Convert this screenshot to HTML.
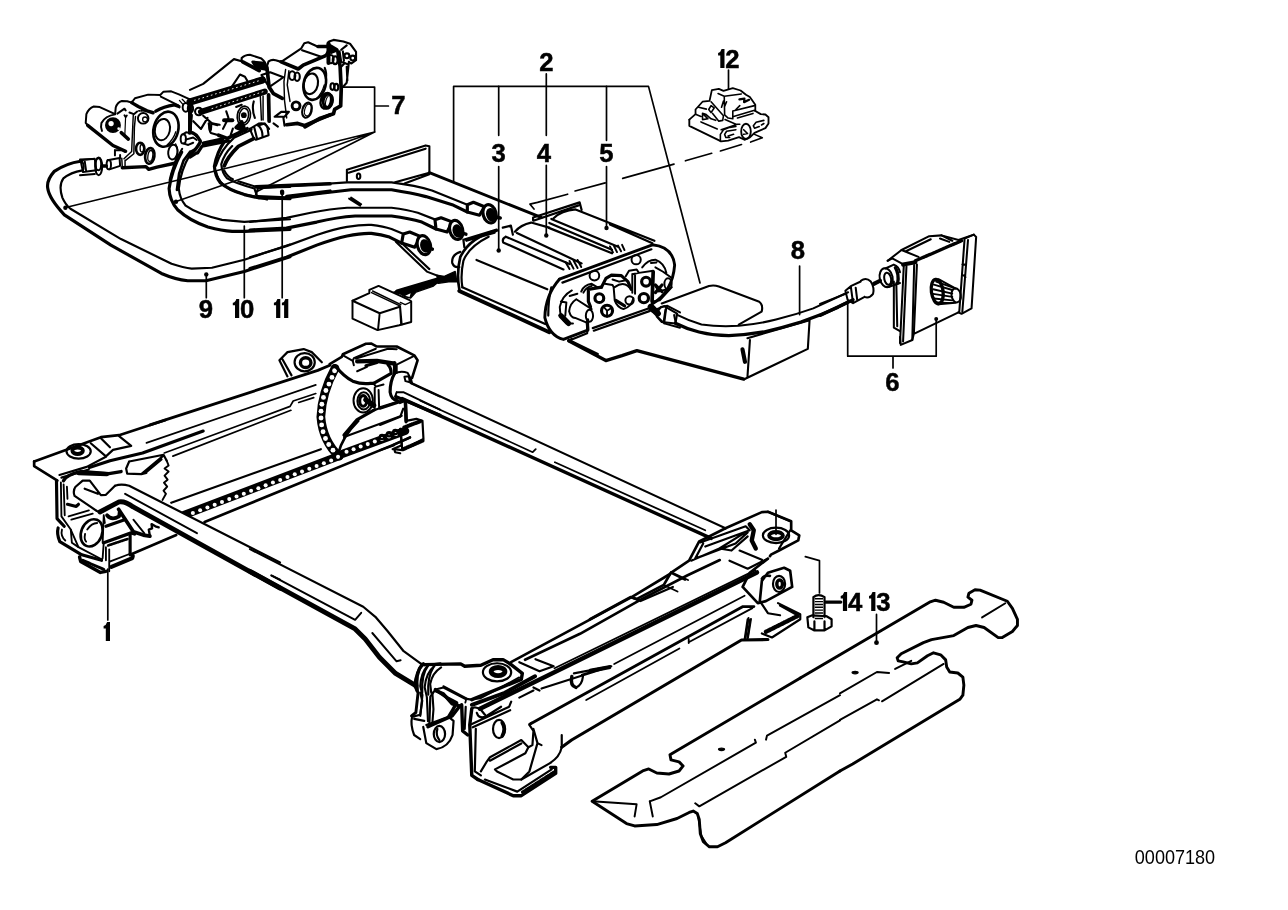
<!DOCTYPE html>
<html><head><meta charset="utf-8"><title>Seat adjuster diagram</title>
<style>
html,body{margin:0;padding:0;background:#fff;}
body{width:1288px;height:910px;overflow:hidden;font-family:"Liberation Sans",sans-serif;}
svg{display:block;position:absolute;left:0;top:0;}
.l{fill:none;stroke:#000;stroke-width:1.6;stroke-linecap:round;stroke-linejoin:round;}
.t{fill:none;stroke:#000;stroke-width:1.7;stroke-linecap:round;stroke-linejoin:round;}
.k{fill:none;stroke:#000;stroke-width:2.4;stroke-linecap:round;stroke-linejoin:round;}
.w{fill:#fff;stroke:#000;stroke-width:1.6;stroke-linecap:round;stroke-linejoin:round;}
.b{fill:#000;stroke:none;}
.n{font-family:"Liberation Sans",sans-serif;font-weight:bold;font-size:26.5px;fill:#000;stroke:#000;stroke-width:0.5px;text-anchor:middle;}
</style></head><body>
<svg width="1288" height="910" viewBox="0 0 1288 910">
<rect x="0" y="0" width="1288" height="910" fill="#fff"/>
<g id="gearL" transform="translate(80,90) scale(0.10989)" stroke-linecap="round" stroke-linejoin="round" fill="none" stroke="#000">
<g stroke-width="18">
<!-- left cylinder -->
<path d="M310 215L180 155L125 150Q80 165 58 220L52 300L70 322"/>
<path d="M320 222Q230 235 195 300Q185 340 200 372"/>
<path d="M318 545V595M330 548H385L405 562M365 592V618"/>
<!-- small fitting bottom-left -->
<path d="M0 632L130 628M0 775L135 765M20 650Q45 690 25 742"/>
<ellipse cx="170" cy="695" rx="32" ry="80"/>
<path d="M250 640L360 618L365 690L268 722"/>
<ellipse cx="262" cy="680" rx="20" ry="42"/>
<!-- housing outline -->
<path d="M320 215L325 160Q340 110 380 100L430 102L470 115L500 75L620 42L730 45L760 15L830 12L900 40L1010 90"/>
<path d="M735 60L895 140L905 158"/>
<path d="M340 215L405 170L416 186M405 230L415 246L426 232M450 205L490 220L520 195"/>
<path d="M485 225L480 330L470 560L400 625M505 240L495 340L490 580L415 640M380 620L385 705M410 640V712" stroke-width="13.2"/>
<path d="M415 246L408 410" stroke-width="10.8"/>
<!-- top-left bolt hole -->
<circle cx="575" cy="258" r="48"/>
<circle cx="592" cy="268" r="22" stroke-width="12"/>
<path d="M535 190H610" stroke-width="14.4" stroke-dasharray="10 12"/>
<!-- big circle -->
<ellipse cx="750" cy="360" rx="68" ry="98" transform="rotate(12 750 360)"/>
<path d="M872 380Q850 450 792 500" stroke-width="12"/>
<!-- small holes -->
<ellipse cx="563" cy="530" rx="16" ry="34" stroke-width="12"/>
<ellipse cx="640" cy="600" rx="22" ry="50" transform="rotate(8 640 600)" stroke-width="12"/>
<ellipse cx="845" cy="565" rx="42" ry="68" transform="rotate(8 845 565)"/>
<path d="M870 490Q900 540 880 620" stroke-width="12"/>
<!-- top-right bolt -->
<ellipse cx="962" cy="158" rx="28" ry="40"/><ellipse cx="1005" cy="168" rx="24" ry="38"/>
<path d="M905 95L940 135M930 85L960 115" stroke-width="12"/>
<!-- elbow fitting -->
<ellipse cx="940" cy="445" rx="24" ry="42"/>
<path d="M940 402L965 385L1035 398L1098 458L1085 502L1040 540L1000 562"/>
<path d="M962 452L1030 432L1062 455M945 488L985 500L1030 480"/>
<!-- cable 10 top thin edge -->
<path d="M930 535L870 640L830 760L815 822"/>
<!-- leader line pieces crossing -->
</g>
<g stroke-width="31.2">
<path d="M70 322L300 505L415 557"/>
<path d="M375 388L440 447"/>
<circle cx="300" cy="320" r="58" stroke-width="28.8" fill="#000"/>
<path d="M470 115L530 150L610 190L665 207"/>
<path d="M690 192Q760 150 860 135L900 150"/>
<ellipse cx="782" cy="357" rx="112" ry="162" transform="rotate(14 782 357)" stroke-width="24"/>
<ellipse cx="548" cy="535" rx="38" ry="55" stroke-width="24"/>
<ellipse cx="635" cy="600" rx="42" ry="72" transform="rotate(8 635 600)" stroke-width="24"/>
<path d="M385 707L600 697L625 722L700 702L862 667"/>
<path d="M1012 230L997 392"/>
<path d="M200 692H240"/>
<path d="M1002 562L942 642L902 762L882 910" stroke-width="24"/>
</g>
<circle cx="283" cy="305" r="24" fill="#fff" stroke="none"/>
<circle cx="352" cy="352" r="12" fill="#fff" stroke="none"/>
</g>

<g id="gearM" transform="translate(190,30) scale(0.10989)" stroke-linecap="round" stroke-linejoin="round" fill="none" stroke="#000">
<g stroke-width="19.2">
<path d="M0 545L120 490L400 265L470 285V255Q500 225 545 225L650 260Q690 290 690 330"/>
<path d="M700 330L715 285Q745 265 780 275L830 290L1010 170L1040 120L1075 112L1160 150L1250 155"/>
<path d="M1020 185L1200 245M1230 235L1274 160"/>
<path d="M375 525L455 405L500 425L520 460M395 520L650 465"/>

<path d="M650 410L720 520L850 430L730 385Z"/>
<path d="M870 360L855 470L860 640L880 800M900 370L885 500L910 650" stroke-width="13.2"/>
<ellipse cx="930" cy="415" rx="28" ry="40"/><ellipse cx="975" cy="425" rx="24" ry="38"/>
<ellipse cx="1100" cy="490" rx="64" ry="95" transform="rotate(12 1100 490)"/>
<path d="M1222 500Q1200 580 1150 625" stroke-width="12"/>
<ellipse cx="1065" cy="730" rx="42" ry="70" transform="rotate(15 1065 730)"/>
<ellipse cx="1072" cy="728" rx="28" ry="55" transform="rotate(15 1072 728)" stroke-width="10.8"/>
<ellipse cx="490" cy="780" rx="60" ry="88" transform="rotate(10 490 780)" stroke-width="14.4"/>
<ellipse cx="490" cy="780" rx="42" ry="68" transform="rotate(10 490 780)" stroke-width="14.4"/>
<path d="M640 600L650 820M665 600L665 820" stroke-width="13.2"/>
<path d="M770 790L830 745L900 745L860 790ZM850 800L860 870"/>
<path d="M120 780L200 850L270 862M30 830L100 900L160 800M330 740L350 800L300 900M170 850L180 910M195 850L190 910"/>
<circle cx="80" cy="742" r="34"/>
<path d="M580 650Q560 720 590 800M420 700L470 680"/>
<path d="M620 870L680 850L720 900M760 850L800 880"/>
</g>
<g stroke-width="33.6">
<path d="M480 290L630 370"/>
<path d="M830 290L985 355L1030 320L1230 235"/>
<path d="M700 340L720 520L760 580L840 622"/>
<path d="M715 590L720 830"/>
<path d="M880 862L980 850L1040 870L1274 772"/>
<ellipse cx="1135" cy="490" rx="100" ry="148" transform="rotate(14 1135 490)" stroke-width="24"/>
<circle cx="965" cy="690" r="36" stroke-width="26.4"/>
<ellipse cx="1252" cy="640" rx="42" ry="65" stroke-width="24"/>
<path d="M310 822H385" stroke-width="36"/>
<path d="M0 655L660 455" stroke-width="64.8"/>
<path d="M100 745L680 560" stroke-width="55.2"/>
<path d="M0 640V910" stroke-width="36"/>
<path d="M1260 120V300" stroke-width="36"/>
</g>
<path d="M570 290L680 300L690 360L600 340Z" fill="#000" stroke-width="24"/>
<circle cx="490" cy="775" r="26" fill="#000" stroke="none"/>
<path d="M40 640L640 458" stroke="#fff" stroke-width="8.4" stroke-dasharray="8 32"/>
<path d="M200 715L670 560" stroke="#fff" stroke-width="8.4" stroke-dasharray="8 32"/>
</g>

<g id="gearR" transform="translate(250,30) scale(0.10989)" stroke-linecap="round" stroke-linejoin="round" fill="none" stroke="#000">
<g stroke-width="19.2">
<path d="M700 150L720 105L760 90L850 105L910 125L965 200V275L920 305L900 290"/>
<path d="M830 180L880 140M815 195L830 290L890 312M845 195L855 280"/>
<circle cx="882" cy="235" r="22"/><circle cx="935" cy="255" r="22"/>
<ellipse cx="735" cy="265" rx="26" ry="38"/><ellipse cx="775" cy="275" rx="22" ry="36"/>
<path d="M900 290L880 480L842 522M830 335L862 300M880 335L886 460"/>
<ellipse cx="750" cy="515" rx="18" ry="30"/><ellipse cx="785" cy="520" rx="18" ry="30"/>
<ellipse cx="710" cy="650" rx="42" ry="68" transform="rotate(15 710 650)"/>
<ellipse cx="718" cy="648" rx="28" ry="54" transform="rotate(15 718 648)" stroke-width="10.8"/>
<path d="M680 345Q700 390 690 440" />
</g>
<g stroke-width="33.6">
<path d="M800 200L820 330L830 540L825 690L770 722L760 762L640 802L500 882"/>
<path d="M620 150H700"/>
<path d="M720 140L790 180L740 200Z" fill="#000"/>
<ellipse cx="690" cy="645" rx="46" ry="72" transform="rotate(15 690 645)" stroke-width="21.6"/>
</g>
</g>

<g id="gearB" transform="translate(190,100) scale(0.10989)" stroke-linecap="round" stroke-linejoin="round" fill="none" stroke="#000">
<g stroke-width="19.2">
<!-- cable 11 fitting -->
<path d="M545 262L625 215Q680 200 705 250L715 320L600 362"/>
<path d="M585 250L610 350M625 235Q660 270 660 330M545 262L580 350"/>
<!-- cable 11 upper part -->
<path d="M560 270L400 345Q280 450 235 600"/>
<path d="M235 650Q250 720 300 770Q400 850 600 880L700 905" stroke-width="21.6"/>
<path d="M310 640Q340 700 390 722M440 740L600 790"/>
<!-- bridge bottom plate -->
<path d="M120 392L300 352M70 482L110 420L350 372M0 520L60 482" stroke-width="28.8"/>
<path d="M0 290Q60 300 95 380Q60 450 0 500" stroke-width="28.8"/>
<path d="M180 215Q170 270 190 300L260 320M250 230L200 215"/>
<path d="M390 260L370 320L410 330"/>
<path d="M620 800L600 860"/>
</g>
<g stroke-width="33.6">
<path d="M580 352L440 422Q340 520 312 600"/>
<path d="M600 790L1274 762"/>
<path d="M880 880L1274 830"/>
<path d="M260 320L340 350L520 262"/>
<path d="M420 250L500 280L470 200Z" fill="#000"/>
</g>
<circle cx="838" cy="835" r="20" fill="#000" stroke="none"/>
</g>

<g id="cablesL" transform="translate(30,140) scale(0.20218)" stroke-linecap="round" stroke-linejoin="round" fill="none" stroke="#000">
<!-- cable 9 -->
<path stroke-width="15.6" d="M250 105Q180 115 120 155Q80 200 88 240Q95 290 170 370L400 520L650 660Q720 690 780 696L870 696L1060 650L1286 578"/>
<path stroke-width="10.8" d="M260 150Q200 160 165 190Q140 225 160 285Q175 320 200 340L450 490L700 612Q760 632 800 636L900 632L1060 592L1286 517"/>
<!-- cable 9 fitting -->
<path stroke-width="9.6" d="M250 100L320 92L328 150L262 158ZM270 100L278 155"/>
<ellipse cx="338" cy="120" rx="14" ry="30" stroke-width="9.6"/>
<!-- cable 10 -->
<path stroke-width="15.6" d="M750 60Q700 150 688 240Q690 300 730 345Q790 400 880 430Q950 448 1000 452H1060L1286 442"/>
<path stroke-width="10.8" d="M790 75Q745 150 736 240Q740 290 770 325Q830 368 950 395L1060 405L1286 392"/>
<!-- cable 11 -->
<path stroke-width="15.6" d="M960 10Q925 60 912 130Q915 175 940 210Q980 245 1060 270L1130 286L1286 290"/>
<path stroke-width="10.8" d="M1000 30Q960 70 946 120Q950 165 975 190Q1010 212 1110 240L1125 282M1130 236L1286 232"/>
</g>
<g id="cablesR" transform="translate(250,140) scale(0.20218)" stroke-linecap="round" stroke-linejoin="round" fill="none" stroke="#000">
<path stroke-width="10.8" d="M40 238L250 225L480 210H700Q820 225 900 250L1075 320"/>
<path stroke-width="15.6" d="M40 280L180 286L330 266L500 246H700Q800 262 870 280L1000 320L1075 356"/>
<path stroke-width="10.8" d="M0 405L180 385L300 360Q400 340 480 335H700Q780 345 830 360L920 395"/>
<path stroke-width="15.6" d="M0 445L180 436L330 406Q430 382 520 376H700Q790 388 850 406L920 440"/>
<path stroke-width="10.8" d="M0 580L180 525L330 470Q420 440 480 430Q550 418 600 420Q660 428 700 440L760 465"/>
<path stroke-width="15.6" d="M0 636L180 580L330 520Q420 488 480 475Q550 460 600 462Q650 468 690 480L750 510"/>
<!-- connectors -->
<g stroke-width="15.6" fill="#fff">
<path d="M1075 320L1105 308L1160 330L1135 372L1075 356Z"/>
<ellipse cx="1185" cy="365" rx="32" ry="46" transform="rotate(-15 1185 365)"/>
<ellipse cx="1192" cy="370" rx="16" ry="26" transform="rotate(-15 1192 370)" fill="#000"/>
<path d="M915 395L945 385L1000 405L975 455L920 440Z"/>
<ellipse cx="1020" cy="445" rx="32" ry="48" transform="rotate(-15 1020 445)"/>
<ellipse cx="1026" cy="450" rx="16" ry="26" transform="rotate(-15 1026 450)" fill="#000"/>
<path d="M758 465L790 455L845 478L815 530L750 510Z"/>
<ellipse cx="860" cy="520" rx="32" ry="48" transform="rotate(-15 860 520)"/>
<ellipse cx="866" cy="524" rx="16" ry="26" transform="rotate(-15 866 524)" fill="#000"/>
</g>
<path stroke-width="16.8" d="M1192 378L1238 386M1026 455L1068 466M868 528L902 540"/>
<path stroke-width="9.6" d="M490 290L545 325M500 285L550 318"/>
</g>

<g id="plateL" transform="translate(330,130) scale(0.24845)" stroke-linecap="round" stroke-linejoin="round" fill="none" stroke="#000">
<g stroke-width="8.4">
<path d="M68 205V160L385 62L400 65V170M75 172L385 75"/>
<ellipse cx="115" cy="186" rx="7" ry="11"/>
<path d="M400 172L262 210M400 178L300 215"/>
<path d="M265 450L390 570L480 605M285 452L400 560"/>
</g>
<g stroke-width="12">
<path d="M400 172L850 352"/>
<path d="M270 650L440 600L500 590" stroke-width="16.8"/>
<path d="M300 640L430 615" stroke-width="9.6"/>
</g>
</g>
<g id="plateR" transform="translate(540,250) scale(0.24845)" stroke-linecap="round" stroke-linejoin="round" fill="none" stroke="#000">
<g stroke-width="8.4">
<path d="M490 215L680 145Q700 140 720 147L880 207Q900 220 892 248L800 300"/>
<path d="M835 355L1085 283L1078 398L822 520M845 362L835 510"/>
<path d="M115 365L190 335V290"/>
<!-- cable 8 top edge -->
<path d="M550 260Q600 285 650 300Q720 310 800 305Q880 298 950 280Q1030 260 1100 235L1240 170"/>
<!-- fitting -->
<path d="M470 238L500 226L552 256L545 296L490 290L470 268Z"/>
<path d="M505 240L498 288M540 262L548 300"/>
</g>
<g stroke-width="13.2">
<path d="M115 365L265 445L330 425L390 405L820 520"/>
<path d="M545 295Q590 318 640 330Q700 345 760 345Q830 342 900 330Q980 312 1050 290Q1130 262 1200 230L1260 200"/>
<path d="M815 400L825 450" stroke-width="16.8"/>
</g>
<circle cx="458" cy="240" r="9" fill="#000" stroke="none"/>
</g>

<g id="motor" transform="translate(430,170) scale(0.20218)" stroke-linecap="round" stroke-linejoin="round" fill="none" stroke="#000">
<g stroke-width="10.8">
<!-- left motor -->
<path d="M330 300Q200 330 150 430Q130 510 145 590" stroke-width="13.2"/>
<path d="M290 330Q190 380 165 450Q150 520 160 580"/>
<path d="M160 580L570 762M230 445L580 590"/>
<path d="M150 405Q105 420 110 460Q120 485 145 480"/>
<path d="M165 345L330 295M165 345L170 382M360 285L400 275L410 320M180 350L320 310"/>
<!-- rod 1 -->
<path d="M375 330L690 465M362 358L660 492M375 330Q355 340 362 358"/>
<path d="M670 455L690 490M690 450L710 488M710 448L730 485M730 445L748 480" stroke-width="9.6"/>
<!-- middle motor -->
<path d="M420 305Q450 270 500 260L590 285M430 312L750 462M585 285L900 412"/>
<!-- rod 2 -->
<path d="M600 242L930 380M590 262L900 395"/>
<path d="M890 378L905 408M910 376L925 406M930 374L945 402M950 370L962 396" stroke-width="9.6"/>
<!-- right motor -->
<path d="M610 240Q650 200 720 195L1110 350M890 270L1100 362"/>
<path d="M510 235L740 160L750 198M515 250L735 175M510 235V250"/>
<!-- end plate -->
<path d="M640 540L1100 370Q1200 380 1210 470Q1200 600 1100 662" stroke-width="14.4"/>
<path d="M640 540Q570 620 568 730Q590 820 660 838L780 792V740" stroke-width="14.4"/>
<path d="M655 557L1095 392M600 580Q585 640 585 720"/>
<path d="M805 782L1080 685M810 795L1085 698"/>
<!-- plate under motor -->
<path d="M690 842L830 910M700 835L690 850"/>
</g>
<g stroke-width="19.2">
<path d="M145 598L590 802"/>
<path d="M1090 690L1110 700"/>
</g>
</g>

<g id="endplate" transform="translate(540,230) scale(0.10989)" stroke-linecap="round" stroke-linejoin="round" fill="none" stroke="#000">
<g stroke-width="18">
<circle cx="495" cy="415" r="44"/><circle cx="875" cy="270" r="42"/>
<path d="M290 550Q200 600 180 700Q180 800 240 850H300M330 630Q270 670 265 740Q280 800 320 800M330 630L470 720M320 800L420 840M270 600L340 580M190 650L240 660L230 780"/>
<ellipse cx="450" cy="780" rx="33" ry="55"/>
<path d="M375 560Q400 500 470 490L520 520M395 570Q420 520 470 510"/>
<path d="M660 450L720 470L770 460M590 490L660 500L670 520L680 640Q700 700 760 720Q830 700 850 620M680 520Q750 470 800 510L830 540"/>
<circle cx="815" cy="640" r="38"/>
<path d="M780 420L810 370L880 360L900 390L850 400M840 400V570M865 400V580M900 390L1030 370"/>
<path d="M930 340Q980 270 1050 270Q1130 300 1150 390M1010 300L1060 295M1050 340L1120 380L1190 430M1050 510L1080 560L1150 540"/>
<ellipse cx="1165" cy="490" rx="33" ry="50"/>
<path d="M1030 650L1090 640L1200 520"/>
<path d="M1060 760L1100 700L1160 690L1274 750M1080 800L1130 850L1274 890M1150 700L1130 850"/>
</g>
<g stroke-width="28.8">
<path d="M190 780L260 850" stroke-width="48"/>
<path d="M440 540V650L460 700M440 540L560 520"/>
<path d="M560 520L600 440L650 410L740 415L800 470L830 540"/>
<path d="M690 640L770 690"/>
<circle cx="540" cy="620" r="40"/>
<circle cx="610" cy="735" r="50"/>
<path d="M610 735L580 700M610 735L650 710M610 735V790" stroke-width="16.8"/>
<circle cx="965" cy="470" r="40"/><circle cx="945" cy="620" r="42"/>
<path d="M1030 380L1020 650" stroke-width="33.6"/>
<path d="M1050 500L1110 560M1110 500L1050 570"/>
<path d="M430 840L435 910"/>
<path d="M1010 700L1070 760" stroke-width="60"/>
</g>
</g>

<g id="plug" transform="translate(340,260) scale(0.1087)" stroke-linecap="round" stroke-linejoin="round" fill="none" stroke="#000">
<g stroke-width="18">
<path d="M115 375L270 305V275L355 238L640 370L655 380V570L545 600L345 645L115 540Z" fill="#fff"/>
<path d="M115 375L365 490L550 430M365 490L350 640"/>
<path d="M290 300L555 425L570 595M300 285L560 410M555 390L600 410L655 385M550 430L560 590" stroke-width="13.2"/>
</g>
<path d="M495 295L870 180L905 200L860 240L700 295L650 350L600 340L560 315Z" fill="#000" stroke-width="12"/>
<path d="M600 330L650 305L640 340Z" fill="#fff" stroke="none"/>
<path d="M890 140L960 150L1060 105L1075 200L1000 200L905 215Z" fill="#000" stroke-width="12"/>
</g>

<g id="gearbox6" transform="translate(820,220) scale(0.153846)" stroke-linecap="round" stroke-linejoin="round" fill="none" stroke="#000">
<g stroke-width="13.2">
<path d="M440 265L530 195L710 105L790 100L900 130L1000 95L1015 110L985 575L920 610L900 600"/>
<path d="M530 195L640 240M555 205L720 125M790 100L860 135M780 120L840 142"/>
<path d="M940 120L1000 95M940 120L905 600M962 130L925 598M925 290H940M935 360L945 372"/>
<path d="M630 290L610 740L900 600M610 740L600 780L525 812L520 760"/>
<path d="M545 290L520 800M562 300L540 790M612 292L600 780"/>
<path d="M440 265L470 250L545 290M480 400V700L520 722M496 410L502 690"/>
<!-- input boss -->
<ellipse cx="430" cy="375" rx="42" ry="62" transform="rotate(-12 430 375)"/>
<ellipse cx="440" cy="382" rx="22" ry="40" transform="rotate(-12 440 382)"/>
<path d="M425 315L480 290Q512 300 520 340M445 436L520 410"/>
<!-- cable end fitting -->
<path d="M165 460L200 430L265 400M265 395Q300 370 330 400Q355 440 345 480Q320 512 290 500M200 430L215 540L290 500M165 460L180 520L215 540M232 440L242 520"/>
<path d="M0 545L165 480"/>
<!-- knurl shaft -->
<ellipse cx="885" cy="490" rx="30" ry="46" transform="rotate(-10 885 490)"/>
<path d="M770 385L880 445M770 548L880 538"/>
</g>
<g stroke-width="21.6">
<path d="M620 265L920 135" stroke-dasharray="16 8"/>
<path d="M0 620L180 535"/>
<path d="M350 415L390 395" stroke-width="26.4"/>
<path d="M490 310Q515 350 505 410"/>
<ellipse cx="762" cy="465" rx="38" ry="80" transform="rotate(-8 762 465)"/>
<path d="M740 420L860 455M735 450L860 478M735 480L860 500M740 510L860 522M750 535L860 540M755 400L865 440" stroke-width="12"/>
<path d="M540 290L620 275" stroke-width="26.4"/>
</g>
</g>

<g id="clip12" transform="translate(680,80) scale(0.07764)" stroke-linecap="round" stroke-linejoin="round" fill="none" stroke="#000">
<g stroke-width="20.4">
<path d="M120 510V590L530 790L620 780L760 735L830 770L900 740L960 680L1100 620L1140 560V480L1100 445L1040 440L970 400" stroke-width="24"/>
<path d="M120 510L200 440V380L290 280L380 270L410 130L500 115L560 140L680 105L780 135L850 190L900 220L970 320V400" stroke-width="22.8"/>
<path d="M490 175L570 210L790 180M570 210L575 450L620 490L680 500V400L960 330M690 470L960 390M740 490L940 430M560 270L535 350M600 280L575 340M720 380L770 330"/>
<path d="M765 250L830 240L825 285L890 255" stroke-width="28.8"/>
<path d="M200 440L270 470M240 350L340 375M290 430V510L360 500ZM290 430L330 440L400 500L460 520M370 380L400 330L440 360L400 420ZM400 280L560 460L550 520L500 530L420 430"/>
<path d="M270 540L480 630"/>
<path d="M520 790V700L560 640L640 610L720 600M530 640L740 570H770M580 510L720 570"/>
<path d="M720 640L600 660L575 700L590 740H640M620 720L690 700"/>
<ellipse cx="850" cy="662" rx="62" ry="98" stroke-width="24"/>
<path d="M820 640L870 690L820 700"/>
<path d="M1080 520L980 545L945 590L960 620L1020 600M1050 580L1080 560"/>
<path d="M960 700L1060 745L910 800"/>
</g>
</g>
<g id="dashline" class="t">
<path d="M741.5 144.5L720.4 151M711.7 153.3L685.4 160.8M674 164.1L622.7 178.4M605.2 182.9L575.1 191M567.6 194.2L537.5 202.4L530 204.2L534 209"/>
</g>

<g id="F2" transform="translate(150,340) scale(0.20218)" stroke-linecap="round" stroke-linejoin="round" fill="none" stroke="#000">
<g stroke-width="10.8">
<path d="M0 420L830 150L890 125" stroke-width="14.4"/>
<path d="M105 805L845 540"/>
<path d="M270 900L1200 520L1286 482" stroke-width="13.2"/>
<!-- rack -->
<path d="M170 865L940 572M955 562L1262 450" stroke-width="40.8"/>
<!-- sector gear -->
<path d="M915 140Q850 260 845 380Q855 500 935 575" stroke-width="43.2"/>
<path d="M930 565Q950 480 1030 400" stroke-width="13.2"/>
<!-- back bracket -->
<path d="M850 110L800 60L760 45L680 60L640 100L680 180M655 95L700 175"/>
<ellipse cx="765" cy="110" rx="50" ry="45"/>
<ellipse cx="770" cy="112" rx="26" ry="24" stroke-width="16.8"/>
<path d="M1100 350L1245 300M960 480L1245 375M1240 440L1245 520L1200 540M1200 520L1286 482"/>
</g>
<!-- rack holes -->
<g fill="#fff" stroke="none">
<circle cx="212" cy="856" r="10"/><circle cx="248" cy="842" r="10"/><circle cx="284" cy="828" r="10"/><circle cx="320" cy="815" r="10"/><circle cx="356" cy="801" r="10"/><circle cx="392" cy="787" r="10"/><circle cx="428" cy="774" r="10"/><circle cx="464" cy="760" r="10"/><circle cx="500" cy="746" r="10"/><circle cx="536" cy="733" r="10"/><circle cx="572" cy="719" r="10"/><circle cx="608" cy="705" r="10"/><circle cx="644" cy="692" r="10"/><circle cx="680" cy="678" r="10"/><circle cx="716" cy="664" r="10"/><circle cx="752" cy="651" r="10"/><circle cx="788" cy="637" r="10"/><circle cx="824" cy="623" r="10"/><circle cx="860" cy="610" r="10"/><circle cx="896" cy="596" r="10"/><circle cx="930" cy="578" r="10"/>
<circle cx="972" cy="553" r="10"/><circle cx="1007" cy="540" r="10"/><circle cx="1042" cy="527" r="10"/><circle cx="1077" cy="515" r="10"/><circle cx="1112" cy="502" r="10"/><circle cx="1147" cy="490" r="10"/><circle cx="1182" cy="477" r="10"/><circle cx="1217" cy="465" r="10"/>
<circle cx="913" cy="152" r="12"/><circle cx="900" cy="185" r="12"/><circle cx="885" cy="218" r="12"/><circle cx="870" cy="250" r="12"/><circle cx="858" cy="284" r="12"/><circle cx="850" cy="318" r="12"/><circle cx="846" cy="352" r="12"/><circle cx="846" cy="386" r="12"/><circle cx="849" cy="420" r="12"/><circle cx="856" cy="454" r="12"/><circle cx="868" cy="487" r="12"/><circle cx="884" cy="517" r="12"/><circle cx="905" cy="545" r="12"/>
</g>
</g>

<g id="railL" stroke-linecap="round" stroke-linejoin="round" fill="none" stroke="#000">
<path stroke-width="1.68" d="M146.5 442.9L315.8 384.9"/>
<path stroke-width="3.12" d="M89.3 467.5L110 460.7L142.6 453L203.2 431"/>
<path stroke-width="1.68" d="M164.3 453L290.1 406.4L293.2 401L315.8 393.5"/>
<path stroke-width="1.68" d="M172.9 456.1L290.9 410.3M298.7 402.5L313.7 397.6"/>
</g>

<g transform="translate(20,420) scale(0.20218)" fill="#fff" stroke="none">
<path d="M470 325L540 325L1286 705L2600 1390L2600 1560L1286 832L560 430L490 405L395 455L380 450L270 375L275 330L310 300H345L400 372L425 370Z"/>
</g>
<g transform="translate(250,540) scale(0.20218)" fill="#fff" stroke="none">
<path d="M0 45L560 330L620 380L680 450L760 550L850 615L820 720L720 660L640 580L570 490L520 440L0 155Z"/>
</g>

<g id="F1" transform="translate(20,420) scale(0.20218)" stroke-linecap="round" stroke-linejoin="round" fill="none" stroke="#000">
<g stroke-width="10.8">
<path d="M70 205L400 85L490 75L720 0" stroke-width="13.2"/>
<path d="M70 205V228L185 300" stroke-width="13.2"/>
<ellipse cx="290" cy="155" rx="60" ry="36"/>
<ellipse cx="285" cy="152" rx="26" ry="16" stroke-width="19.2"/>
<path d="M350 115L425 180L460 148L550 128L490 80M400 90L445 135"/>
<path d="M195 272L330 232L425 182M205 285L340 245"/>
<!-- ear -->
<path d="M540 205L710 172L725 200M540 205L525 240L530 265L600 268L625 262M600 268L705 180M620 262L700 195"/>
<path d="M725 200L735 225L715 240L735 255L715 275L730 295L712 310L728 330L710 350L722 365L705 395" stroke-width="9.6"/>
<!-- front tube -->
<path d="M470 325Q500 315 540 325L1286 705"/>
<path d="M520 365L875 560M1245 770L1286 790" stroke-width="9.6"/>
<path d="M275 330L310 300H345L400 372L425 370L470 325M270 375L380 450L395 455M275 330Q260 350 270 375M320 340L385 365"/>
<!-- bracket -->
</g>
<g stroke-width="16.8">
<path d="M395 455L490 405Q520 400 560 430L1286 832" stroke-width="24"/>
<path d="M215 300Q230 270 300 255L440 265L500 255"/>
<path d="M290 262L430 268" stroke-width="21.6"/>
</g>
</g>

<g id="bracketFL" transform="translate(40,490) scale(0.10989)" stroke-linecap="round" stroke-linejoin="round" fill="none" stroke="#000">
<g stroke-width="16.8">
<path d="M190 -70L195 240L280 360L350 520M215 -50L225 230M245 -30L250 80"/>
<path d="M260 240L445 185M285 270L480 215"/>
<path d="M430 360Q470 300 520 300M410 400Q400 450 420 470"/>
<path d="M580 230L570 480M580 230L590 300"/>
<path d="M850 270L950 395"/>
<path d="M580 480L570 620L560 640M600 520V640M630 540V740M640 650L820 580"/>
<path d="M200 360Q185 420 230 460M280 360L290 480L350 520L560 630"/>
</g>
<g stroke-width="28.8">
<path d="M150 -85L155 260L220 330"/>
<path d="M250 130L330 150L350 130"/>
<ellipse cx="470" cy="390" rx="95" ry="128" transform="rotate(22 470 390)" stroke-width="24"/>
<path d="M610 230Q650 280 720 240L725 200" stroke-width="33.6"/>
<path d="M600 330L770 270"/>
<path d="M715 175L850 380L940 410L1000 420" stroke-width="33.6"/>
<path d="M1000 420L990 360L1020 350L1015 310L1050 330L1080 340" stroke-width="21.6"/>
<path d="M580 480L830 390L860 400" stroke-width="31.2"/>
<path d="M620 505L800 445" stroke-width="24" stroke-dasharray="6 6"/>
<path d="M820 400V590"/>
<path d="M650 700L840 620L845 600" stroke-width="36"/>
<path d="M820 590L1240 410" stroke-width="24"/>
<path d="M165 345Q150 400 180 470L380 590L560 640"/>
<path d="M360 610L370 650L550 750L600 740" stroke-width="31.2"/>
<path d="M390 640L580 722" stroke-width="26.4" stroke-dasharray="6 6"/>
</g>
</g>

<g id="F3" transform="translate(250,540) scale(0.20218)" stroke-linecap="round" stroke-linejoin="round" fill="none" stroke="#000">
<g stroke-width="10.8">
<path d="M0 45L560 330L620 380L680 450L760 550L850 615"/>
<path d="M105 175L520 395L550 360M605 460L725 600L745 595" stroke-width="9.6"/>
</g>
<g stroke-width="24">
<path d="M0 155L520 440L570 490L640 580L720 660L820 720"/>
</g>
</g>

<g id="F4" transform="translate(400,640) scale(0.20218)" stroke-linecap="round" stroke-linejoin="round" fill="none" stroke="#000">
<g stroke-width="10.8">
<path d="M140 125Q105 170 110 260M165 135Q135 180 140 270M120 125L200 115"/>
<path d="M355 295L320 290L215 235L175 245L150 280L145 420"/>
<ellipse cx="480" cy="160" rx="70" ry="45"/>
<path d="M590 110L690 155L760 130L670 95"/>
<path d="M590 285L660 250M660 235L690 250M700 240L1045 130L900 172M860 165L1045 130"/>
<path d="M905 180Q900 225 870 235"/>
<path d="M800 470V530"/>
<!-- lug -->
<path d="M60 380Q50 420 70 470L100 490M60 380L100 370L110 300L100 260M130 420L240 380L265 400L260 470Q240 530 180 540L130 510L115 430M70 390L120 400"/>
<ellipse cx="195" cy="465" rx="28" ry="40"/>
<path d="M185 440Q175 470 195 495"/>
<!-- front face -->
<path d="M375 440L370 650L400 670M355 340Q370 325 400 345L420 370M345 420L540 330L550 305M360 432L545 347M380 360Q390 390 420 380L500 330"/>
<path d="M325 330L320 440"/>
<ellipse cx="490" cy="440" rx="30" ry="45"/>
<path d="M400 650L430 600L445 580L600 495L635 530L655 520L660 450L640 420L650 410M445 597L600 512"/>
<path d="M660 440L680 510L700 520M680 510L640 650L600 690H560L480 650L470 640L620 560L635 530"/>
<path d="M420 690L580 750L750 640"/>
<path d="M800 530Q790 580 740 610L600 690"/>
</g>
<g stroke-width="16.8">
<path d="M110 120Q75 160 85 250"/>
<path d="M120 122L300 118L320 130L400 125L460 98L510 97L545 118"/>
<path d="M545 118L605 165L600 195L355 295"/>
<ellipse cx="485" cy="156" rx="34" ry="20" stroke-width="24"/>
<path d="M850 180Q840 225 870 235"/>
<path d="M175 245L240 290L280 310Q260 350 240 380"/>
<path d="M355 340L345 420L355 670L385 690"/>
<path d="M305 320L310 450L335 470"/>
<path d="M505 410Q525 440 505 475"/>
<path d="M385 690L560 770H600L770 660V630H745"/>
<path d="M605 752L762 652" stroke-dasharray="5 5" stroke-width="14.4"/>
</g>
</g>

<g id="collarFR" transform="translate(395,640) scale(0.10989)" stroke-linecap="round" stroke-linejoin="round" fill="none" stroke="#000">
<path stroke-width="26.4" d="M260 215Q190 280 180 420L210 480L190 660L150 690"/>
<path stroke-width="19.2" d="M300 230Q235 300 230 420L250 500L230 690M360 235Q280 300 270 430L290 520L300 740M420 250Q340 300 320 400L330 480M340 480L350 630L340 760"/>
<path stroke-width="31.2" d="M370 460L440 490L520 580L590 600L520 690L300 790"/>
<path stroke-width="16.8" d="M440 420L650 530L640 570M700 540L780 530L1130 340"/>
<path stroke-width="36" d="M700 590L1000 480L1274 330"/>
</g>

<g id="F5" transform="translate(590,500) scale(0.20218)" stroke-linecap="round" stroke-linejoin="round" fill="none" stroke="#000">
<g stroke-width="10.8">
<path d="M670 140L850 60L880 58L995 105V150L1035 175L1030 200L935 250L895 270L890 278" stroke-width="13.2"/>
<path d="M990 150L935 240M880 58L990 105"/>
<ellipse cx="920" cy="175" rx="65" ry="38"/>
<path d="M920 50V170" stroke-width="8.4"/>
<path d="M670 140L540 205L490 300L400 360L365 420L230 490L200 480L0 590" stroke-width="13.2"/>
<path d="M545 210L770 130L790 150L570 230M560 215L520 290L720 215L780 160M500 300L640 240L700 250L780 180M640 240L760 165"/>
<path d="M400 360L470 395M230 490L250 500L410 430"/>
<path d="M690 300L780 340L880 290M740 250L850 295"/>
<path d="M0 850L100 830M0 840L100 822"/>
<path d="M780 590L765 690M792 592L778 690"/>
<path d="M755 430L830 510L870 500L1000 430L990 350L960 335L880 360L850 400L840 500M755 430L790 360L880 290M850 390Q860 370 890 375" stroke-width="13.2"/>
<ellipse cx="935" cy="415" rx="30" ry="40"/>
<path d="M840 500L880 560L940 570M930 510L1040 565V590L900 680L850 660M940 522L1020 567"/>
<!-- bolt 14 -->
<path d="M1075 580L1080 630L1110 645H1160L1195 625V590L1170 575M1075 580L1100 570L1170 575M1110 600V645M1160 600V645M1105 480V580M1160 480V580M1105 480Q1130 460 1160 480"/>
<path d="M1065 280L1135 300V460" stroke-width="8.4"/>
</g>
<g stroke-width="16.8">
<ellipse cx="920" cy="176" rx="34" ry="18" stroke-width="19.2"/>
<path d="M790 120L810 150L800 200L820 240" stroke-width="21.6"/>
<ellipse cx="938" cy="416" rx="14" ry="20" stroke-width="16.8"/>
<path d="M870 652L1030 572" stroke-dasharray="5 5" stroke-width="21.6"/>
<path d="M1132 485V590" stroke-width="40.8" stroke-dasharray="7 7" stroke-linecap="butt"/>
<path d="M1165 505H1240"/>
</g>
</g>

<g id="F6" transform="translate(380,340) scale(0.20218)" stroke-linecap="round" stroke-linejoin="round" fill="none" stroke="#000">
<g stroke-width="10.8">
<path d="M0 340L90 310L120 300M115 340L100 380L0 420"/>
<path d="M130 400L180 390L210 400L215 490L110 545L70 540L75 555L100 560M100 440L110 540M0 545L70 520"/>
<circle cx="10" cy="480" r="11"/><circle cx="45" cy="466" r="11"/><circle cx="76" cy="455" r="11"/>
</g>
<g stroke-width="16.8">
<path d="M125 300L130 400"/>
<path d="M120 432L200 402M115 540L215 496" stroke-dasharray="5 5" stroke-width="19.2"/>
</g>
</g>

<g id="railR" stroke-linecap="round" stroke-linejoin="round" fill="none" stroke="#000">
<path stroke-width="2.64" d="M511 662.1L631.2 597.3L637.5 599.6M631.2 597.3L670 574"/>
<path stroke-width="2.64" d="M525 659.8L580 633.8L642.1 598.8L687.1 575.5L719.8 560"/>
<path stroke-width="1.92" d="M663.8 585L677.5 591.5M671 572L688 580"/>
<path stroke-width="1.8" d="M554.5 668.3L755.5 570.1"/>
<path stroke-width="4.44" d="M480 708.7L546.8 676.1L757 572.4"/>
<path stroke-width="1.8" d="M614.2 664L744.6 595.7"/>
<path stroke-width="1.8" d="M586.2 700L679.4 648.5M688.7 642.3L752.4 608.1M688.7 639V643"/>
<path stroke-width="1.92" d="M748.5 618L745.5 637.5M751 619L748 637.5"/>
<path stroke-width="2.88" d="M529.7 724.2L743 606.6H753.9"/>
<path stroke-width="3.12" d="M561.7 747.2L571.6 740L741.5 640L767.9 639.5"/>
<path stroke-width="2.04" d="M410.3 382.5L725.5 528.3"/>
<path stroke-width="3.36" d="M402.2 398.6L711.3 538.4"/>
<path stroke-width="1.8" d="M420.4 400.7L532.7 452.2l3-3M554.9 462.3L705.2 530.3"/>
</g>

<g id="block" transform="translate(300,335) scale(0.10989)" stroke-linecap="round" stroke-linejoin="round" fill="none" stroke="#000">
<g stroke-width="18">
<path d="M400 190L480 235L490 210L690 125M510 215L800 125L880 130M480 235L490 275"/>
<path d="M520 330L610 290M880 270L1030 195M880 275V345"/>
<path d="M670 440L690 470L760 450M680 480V660M715 500L720 660M720 660L880 610"/>
<ellipse cx="575" cy="595" rx="88" ry="110"/>
<ellipse cx="580" cy="600" rx="58" ry="78"/>
<path d="M860 350Q920 320 980 345L1010 400L1020 440M950 380L990 375L1000 430L960 420Z"/>
<path d="M1010 440L1274 560M880 520H940L1274 680M880 520Q860 560 880 590"/>
<path d="M910 620L960 600"/>
</g>
<g stroke-width="28.8">
<path d="M270 265L380 200L390 175L600 80L650 78L700 105H880L1040 185L1070 230L1020 390" stroke-width="24"/>
<path d="M520 240L700 235L860 260" stroke-width="38.4"/>
<path d="M600 280L700 250"/>
<path d="M860 250V350"/>
<path d="M800 270Q830 300 830 350L670 440"/>
<path d="M320 280Q400 380 480 420Q560 450 640 440H670"/>
<ellipse cx="575" cy="600" rx="32" ry="48"/>
<path d="M600 590L670 640" stroke-width="48"/>
<path d="M400 910L520 770L680 680"/>
<path d="M860 350Q820 420 820 520Q830 590 890 600"/>
<path d="M870 560L1274 730"/>
<path d="M960 600L965 790"/>
</g>
</g>

<g id="coverL" transform="translate(580,680) scale(0.20218)" stroke-linecap="round" stroke-linejoin="round" fill="none" stroke="#000">
<path stroke-width="14.4" d="M1090 -10L470 355L445 370L450 395L490 405L510 425L490 450L440 465L380 460L340 440L310 450L60 600L230 710L270 722L380 715L480 685L540 655L560 648L580 660L590 690L595 760L610 800L640 825H680L720 805L1286 450"/>
<path stroke-width="9.6" d="M585 680L600 770L625 810M60 600L280 615L270 675M345 600L360 675M345 600L400 580L870 310L865 295M920 295L925 275L1286 75M570 610L590 625L1020 380L1015 360L1286 200"/>
<ellipse cx="700" cy="343" rx="15" ry="6" fill="#000" stroke-width="6"/>
</g>
<g id="coverR" transform="translate(790,580) scale(0.20218)" stroke-linecap="round" stroke-linejoin="round" fill="none" stroke="#000">
<path stroke-width="14.4" d="M51 485L690 110L720 100L760 110L810 135H860L895 120L900 100L880 85L885 65L915 48L940 50L1075 105L1100 140L1125 195V225L1100 255L1050 285H1030L960 235L920 225L880 235L810 275L700 295L660 310L550 365L530 385L535 400L560 405L600 415L630 410L680 375L710 360L745 370L770 395L775 430L790 455L830 460L855 480L860 520L855 570L840 590L310 910L247 945"/>
<path stroke-width="9.6" d="M950 185L1065 115M247 561L430 455L490 460M520 440L600 400M247 692L430 590L440 595M455 600L760 415"/>
<ellipse cx="322" cy="458" rx="15" ry="6" fill="#000" stroke-width="6"/>
</g>

<g id="labels" opacity="0.999">
<!-- leader lines -->
<path class="t" d="M453.6 181.6V86.4H648.5L700 283"/>
<path class="t" d="M498.7 86.4V135.3M498.7 166.6V250.5"/>
<path class="t" d="M546.3 73.9V135.3M546.3 165.3V235.5"/>
<path class="t" d="M606.5 86.4V140.3M606.5 166.6V228"/>
<circle class="b" cx="498.7" cy="250.5" r="2.2"/><circle class="b" cx="546.3" cy="235.5" r="2.2"/><circle class="b" cx="606.5" cy="228" r="2.2"/>
<path class="t" d="M343.3 87.1H374.6V132M374.6 106H388.4"/>
<path class="t" d="M374.6 132L65.7 207.5M374.6 132L175.4 201.8M374.6 132L258 191"/>
<path class="t" d="M728.5 70.1V88.9"/>
<text class="n" transform="translate(546.3,70.6) scale(0.97,1)">2</text>
<text class="n" transform="translate(498.7,162.1) scale(0.97,1)">3</text>
<text class="n" transform="translate(544.0,162.1) scale(0.97,1)">4</text>
<text class="n" transform="translate(606.5,162.1) scale(0.97,1)">5</text>
<text class="n" transform="translate(398.4,114.1) scale(0.97,1)">7</text>
<path class="b" transform="translate(718.1,68.1)" d="M2.2 0V-12.6H0V-15.2Q2.7-15.7 3.5-19H6.4V0Z"/><text class="n" transform="translate(732.5,68.1) scale(0.97,1)">2</text>
<text class="n" transform="translate(798.0,259.1) scale(0.97,1)">8</text>
<path class="t" d="M206.3 274.4V297.7M244.3 226V297.7M282.2 193V297.7"/>
<circle class="b" cx="206.3" cy="274.4" r="2.2"/><circle class="b" cx="282.2" cy="193" r="2.2"/>
<circle class="b" cx="65.4" cy="207.7" r="2.2"/><circle class="b" cx="176" cy="201.7" r="2.2"/>
<text class="n" transform="translate(205.9,317.9) scale(0.97,1)">9</text>
<path class="b" transform="translate(232.8,317.9)" d="M2.2 0V-12.6H0V-15.2Q2.7-15.7 3.5-19H6.4V0Z"/><text class="n" transform="translate(247.2,317.9) scale(0.97,1)">0</text>
<path class="b" transform="translate(273.9,317.9)" d="M2.2 0V-12.6H0V-15.2Q2.7-15.7 3.5-19H6.4V0Z"/><path class="b" transform="translate(281.9,317.9)" d="M2.2 0V-12.6H0V-15.2Q2.7-15.7 3.5-19H6.4V0Z"/>
<path class="t" d="M799.6 266V314.6"/>
<path class="t" d="M847.7 303V356.2H936.2V318.5M893 356.2V368"/>
<circle class="b" cx="936.2" cy="319" r="2"/>
<text class="n" transform="translate(892.5,390.6) scale(0.97,1)">6</text>
<path class="t" d="M876.5 614.4V642.7M107.8 569V620"/>
<circle class="b" cx="876.5" cy="642.7" r="2.4"/>
<path class="b" transform="translate(840.7,611.1)" d="M2.2 0V-12.6H0V-15.2Q2.7-15.7 3.5-19H6.4V0Z"/><text class="n" transform="translate(855.1,611.1) scale(0.97,1)">4</text>
<path class="b" transform="translate(869.0,611.1)" d="M2.2 0V-12.6H0V-15.2Q2.7-15.7 3.5-19H6.4V0Z"/><text class="n" transform="translate(883.4,611.1) scale(0.97,1)">3</text>
<path class="b" transform="translate(103.6,641.1)" d="M2.2 0V-12.6H0V-15.2Q2.7-15.7 3.5-19H6.4V0Z"/>
<text transform="translate(1175,864) scale(0.917,1)" style="font-family:'Liberation Sans',sans-serif;font-size:19.7px;text-anchor:middle;fill:#000">00007180</text>
</g>

</svg>
</body></html>
